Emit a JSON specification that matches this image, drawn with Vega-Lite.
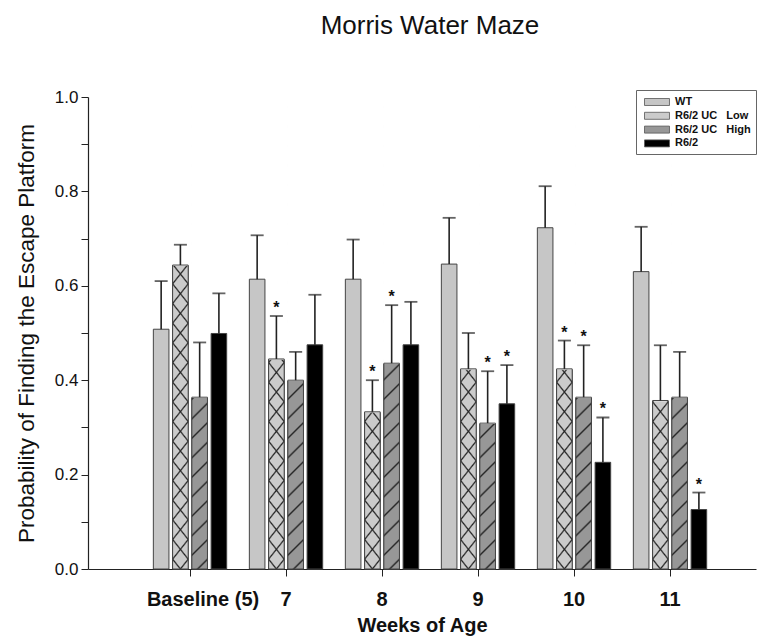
{
  "$schema": "https://vega.github.io/schema/vega-lite/v6.json",
  "autosize": {"type": "none"},
  "padding": {"left": 88, "top": 97, "right": 1, "bottom": 68},
  "width": 668,
  "height": 472,
  "background": "white",
  "title": {"text": "Morris Water Maze", "font": "Liberation Sans", "fontSize": 26, "fontWeight": "normal", "color": "#111", "frame": "group", "anchor": "middle", "dx": 8, "offset": 49},
  "config": {
    "view": {"stroke": null},
    "font": "Liberation Sans",
    "axisY": {
      "values": [0, 0.04, 0.08, 0.12, 0.16, 0.2, 0.24, 0.28, 0.32, 0.36, 0.4, 0.44, 0.48, 0.52, 0.56, 0.6, 0.64, 0.68, 0.72, 0.76, 0.8, 0.84, 0.88, 0.92, 0.96, 1],
      "labelExpr": "abs(datum.value * 5 - round(datum.value * 5)) < 0.001 ? format(datum.value, '.1f') : ''",
      "labelOverlap": false, "labelBound": false,
      "labelFont": "Liberation Sans", "labelFontSize": 17, "labelColor": "#111", "labelPadding": 3,
      "tickSize": 7, "tickColor": "#222", "domainColor": "#222", "domainWidth": 1.2, "grid": false,
      "titleFont": "Liberation Sans", "titleFontSize": 22.5, "titleFontWeight": "normal", "titleColor": "#111", "titlePadding": 16
    }
  },
  "data": {"values": [
    {"week": "Baseline (5)", "group": "WT", "value": 0.508, "err": 0.610, "sig": false},
    {"week": "Baseline (5)", "group": "R6/2 UC Low", "value": 0.644, "err": 0.687, "sig": false},
    {"week": "Baseline (5)", "group": "R6/2 UC High", "value": 0.364, "err": 0.480, "sig": false},
    {"week": "Baseline (5)", "group": "R6/2", "value": 0.499, "err": 0.584, "sig": false},
    {"week": "7", "group": "WT", "value": 0.614, "err": 0.707, "sig": false},
    {"week": "7", "group": "R6/2 UC Low", "value": 0.445, "err": 0.536, "sig": true},
    {"week": "7", "group": "R6/2 UC High", "value": 0.400, "err": 0.460, "sig": false},
    {"week": "7", "group": "R6/2", "value": 0.475, "err": 0.581, "sig": false},
    {"week": "8", "group": "WT", "value": 0.614, "err": 0.698, "sig": false},
    {"week": "8", "group": "R6/2 UC Low", "value": 0.333, "err": 0.400, "sig": true},
    {"week": "8", "group": "R6/2 UC High", "value": 0.436, "err": 0.559, "sig": true},
    {"week": "8", "group": "R6/2", "value": 0.475, "err": 0.566, "sig": false},
    {"week": "9", "group": "WT", "value": 0.646, "err": 0.744, "sig": false},
    {"week": "9", "group": "R6/2 UC Low", "value": 0.424, "err": 0.500, "sig": false},
    {"week": "9", "group": "R6/2 UC High", "value": 0.309, "err": 0.419, "sig": true},
    {"week": "9", "group": "R6/2", "value": 0.350, "err": 0.432, "sig": true},
    {"week": "10", "group": "WT", "value": 0.723, "err": 0.811, "sig": false},
    {"week": "10", "group": "R6/2 UC Low", "value": 0.424, "err": 0.484, "sig": true},
    {"week": "10", "group": "R6/2 UC High", "value": 0.364, "err": 0.474, "sig": true},
    {"week": "10", "group": "R6/2", "value": 0.226, "err": 0.321, "sig": true},
    {"week": "11", "group": "WT", "value": 0.630, "err": 0.725, "sig": false},
    {"week": "11", "group": "R6/2 UC Low", "value": 0.357, "err": 0.474, "sig": false},
    {"week": "11", "group": "R6/2 UC High", "value": 0.364, "err": 0.460, "sig": false},
    {"week": "11", "group": "R6/2", "value": 0.126, "err": 0.162, "sig": true}
  ]},
  "encoding": {
    "x": {
      "field": "week", "type": "nominal",
      "sort": ["Baseline (5)", "7", "8", "9", "10", "11"],
      "scale": {"paddingInner": 0.236, "paddingOuter": 0.5972, "align": 0.57},
      "axis": {
        "title": "Weeks of Age", "titleFont": "Liberation Sans", "titleFontSize": 20, "titleFontWeight": "bold", "titleColor": "#111", "titlePadding": 6,
        "labelAngle": 0, "labelFont": "Liberation Sans", "labelFontSize": 20, "labelFontWeight": "bold", "labelColor": "#111", "labelPadding": 13,
        "labelOffset": {"condition": {"test": "datum.value === 'Baseline (5)'", "value": 13}, "value": 0},
        "tickSize": 7, "tickColor": "#222", "domainColor": "#222", "domainWidth": 1.2, "grid": false
      }
    },
    "xOffset": {
      "field": "group", "type": "nominal",
      "sort": ["WT", "R6/2 UC Low", "R6/2 UC High", "R6/2"],
      "scale": {"paddingInner": 0.19, "paddingOuter": 0}
    }
  },
  "layer": [
    {
      "mark": {"type": "bar", "stroke": "#444", "strokeWidth": 1},
      "encoding": {
        "y": {
          "field": "value", "type": "quantitative",
          "scale": {"domain": [0, 1], "nice": false},
          "axis": {"title": "Probability of Finding the Escape Platform"}
        },
        "color": {
          "field": "group", "type": "nominal",
          "sort": ["WT", "R6/2 UC Low", "R6/2 UC High", "R6/2"],
          "scale": {"domain": ["WT", "R6/2 UC Low", "R6/2 UC High", "R6/2"], "range": ["#c6c6c6", "#cbcbcb", "#979797", "#000000"]},
          "legend": {
            "title": null, "orient": "none", "legendX": 548, "legendY": -7,
            "padding": 5, "strokeColor": "#666", "fillColor": "white", "cornerRadius": 0,
            "labelFont": "Liberation Sans", "labelFontSize": 11, "labelFontWeight": "bold", "labelColor": "#111", "labelOffset": 11,
            "symbolType": "M-2,-0.56H2V0.56H-2Z", "symbolSize": 156, "symbolOffset": 9, "symbolStrokeColor": "#555", "symbolStrokeWidth": 0.8, "symbolOpacity": 1,
            "rowPadding": 0.8,
            "labelExpr": "datum.label === 'R6/2 UC Low' ? 'R6/2 UC\u00a0\u00a0\u00a0Low' : datum.label === 'R6/2 UC High' ? 'R6/2 UC\u00a0\u00a0\u00a0High' : datum.label"
          }
        }
      }
    },
    {
      "transform": [{"filter": "datum.group === 'R6/2 UC Low'"}],
      "mark": {"type": "bar", "fill": {"gradient": "linear", "x1": 0, "y1": 1, "x2": 0.04333, "y2": -0.03986, "stops": [
        {"offset": 0, "color": "#cbcbcb"},
        {"offset": 0.016, "color": "#cbcbcb"}, {"offset": 0.02, "color": "#222"}, {"offset": 0.024, "color": "#cbcbcb"},
        {"offset": 0.056, "color": "#cbcbcb"}, {"offset": 0.06, "color": "#222"}, {"offset": 0.064, "color": "#cbcbcb"},
        {"offset": 0.096, "color": "#cbcbcb"}, {"offset": 0.1, "color": "#222"}, {"offset": 0.104, "color": "#cbcbcb"},
        {"offset": 0.136, "color": "#cbcbcb"}, {"offset": 0.14, "color": "#222"}, {"offset": 0.144, "color": "#cbcbcb"},
        {"offset": 0.176, "color": "#cbcbcb"}, {"offset": 0.18, "color": "#222"}, {"offset": 0.184, "color": "#cbcbcb"},
        {"offset": 0.216, "color": "#cbcbcb"}, {"offset": 0.22, "color": "#222"}, {"offset": 0.224, "color": "#cbcbcb"},
        {"offset": 0.256, "color": "#cbcbcb"}, {"offset": 0.26, "color": "#222"}, {"offset": 0.264, "color": "#cbcbcb"},
        {"offset": 0.296, "color": "#cbcbcb"}, {"offset": 0.3, "color": "#222"}, {"offset": 0.304, "color": "#cbcbcb"},
        {"offset": 0.336, "color": "#cbcbcb"}, {"offset": 0.34, "color": "#222"}, {"offset": 0.344, "color": "#cbcbcb"},
        {"offset": 0.376, "color": "#cbcbcb"}, {"offset": 0.38, "color": "#222"}, {"offset": 0.384, "color": "#cbcbcb"},
        {"offset": 0.416, "color": "#cbcbcb"}, {"offset": 0.42, "color": "#222"}, {"offset": 0.424, "color": "#cbcbcb"},
        {"offset": 0.456, "color": "#cbcbcb"}, {"offset": 0.46, "color": "#222"}, {"offset": 0.464, "color": "#cbcbcb"},
        {"offset": 0.496, "color": "#cbcbcb"}, {"offset": 0.5, "color": "#222"}, {"offset": 0.504, "color": "#cbcbcb"},
        {"offset": 0.536, "color": "#cbcbcb"}, {"offset": 0.54, "color": "#222"}, {"offset": 0.544, "color": "#cbcbcb"},
        {"offset": 0.576, "color": "#cbcbcb"}, {"offset": 0.58, "color": "#222"}, {"offset": 0.584, "color": "#cbcbcb"},
        {"offset": 0.616, "color": "#cbcbcb"}, {"offset": 0.62, "color": "#222"}, {"offset": 0.624, "color": "#cbcbcb"},
        {"offset": 0.656, "color": "#cbcbcb"}, {"offset": 0.66, "color": "#222"}, {"offset": 0.664, "color": "#cbcbcb"},
        {"offset": 0.696, "color": "#cbcbcb"}, {"offset": 0.7, "color": "#222"}, {"offset": 0.704, "color": "#cbcbcb"},
        {"offset": 0.736, "color": "#cbcbcb"}, {"offset": 0.74, "color": "#222"}, {"offset": 0.744, "color": "#cbcbcb"},
        {"offset": 0.776, "color": "#cbcbcb"}, {"offset": 0.78, "color": "#222"}, {"offset": 0.784, "color": "#cbcbcb"},
        {"offset": 0.816, "color": "#cbcbcb"}, {"offset": 0.82, "color": "#222"}, {"offset": 0.824, "color": "#cbcbcb"},
        {"offset": 0.856, "color": "#cbcbcb"}, {"offset": 0.86, "color": "#222"}, {"offset": 0.864, "color": "#cbcbcb"},
        {"offset": 0.896, "color": "#cbcbcb"}, {"offset": 0.9, "color": "#222"}, {"offset": 0.904, "color": "#cbcbcb"},
        {"offset": 0.936, "color": "#cbcbcb"}, {"offset": 0.94, "color": "#222"}, {"offset": 0.944, "color": "#cbcbcb"},
        {"offset": 0.976, "color": "#cbcbcb"}, {"offset": 0.98, "color": "#222"}, {"offset": 0.984, "color": "#cbcbcb"},
        {"offset": 1, "color": "#cbcbcb"}
      ]}},
      "encoding": {"y": {"datum": 1}, "y2": {"datum": 0}}
    },
    {
      "transform": [{"filter": "datum.group === 'R6/2 UC Low'"}],
      "mark": {"type": "bar", "fill": {"gradient": "linear", "x1": 0, "y1": 0, "x2": 0.04333, "y2": 1.03986, "stops": [
        {"offset": 0, "color": "rgba(34,34,34,0)"},
        {"offset": 0.016, "color": "rgba(34,34,34,0)"}, {"offset": 0.02, "color": "#222"}, {"offset": 0.024, "color": "rgba(34,34,34,0)"},
        {"offset": 0.056, "color": "rgba(34,34,34,0)"}, {"offset": 0.06, "color": "#222"}, {"offset": 0.064, "color": "rgba(34,34,34,0)"},
        {"offset": 0.096, "color": "rgba(34,34,34,0)"}, {"offset": 0.1, "color": "#222"}, {"offset": 0.104, "color": "rgba(34,34,34,0)"},
        {"offset": 0.136, "color": "rgba(34,34,34,0)"}, {"offset": 0.14, "color": "#222"}, {"offset": 0.144, "color": "rgba(34,34,34,0)"},
        {"offset": 0.176, "color": "rgba(34,34,34,0)"}, {"offset": 0.18, "color": "#222"}, {"offset": 0.184, "color": "rgba(34,34,34,0)"},
        {"offset": 0.216, "color": "rgba(34,34,34,0)"}, {"offset": 0.22, "color": "#222"}, {"offset": 0.224, "color": "rgba(34,34,34,0)"},
        {"offset": 0.256, "color": "rgba(34,34,34,0)"}, {"offset": 0.26, "color": "#222"}, {"offset": 0.264, "color": "rgba(34,34,34,0)"},
        {"offset": 0.296, "color": "rgba(34,34,34,0)"}, {"offset": 0.3, "color": "#222"}, {"offset": 0.304, "color": "rgba(34,34,34,0)"},
        {"offset": 0.336, "color": "rgba(34,34,34,0)"}, {"offset": 0.34, "color": "#222"}, {"offset": 0.344, "color": "rgba(34,34,34,0)"},
        {"offset": 0.376, "color": "rgba(34,34,34,0)"}, {"offset": 0.38, "color": "#222"}, {"offset": 0.384, "color": "rgba(34,34,34,0)"},
        {"offset": 0.416, "color": "rgba(34,34,34,0)"}, {"offset": 0.42, "color": "#222"}, {"offset": 0.424, "color": "rgba(34,34,34,0)"},
        {"offset": 0.456, "color": "rgba(34,34,34,0)"}, {"offset": 0.46, "color": "#222"}, {"offset": 0.464, "color": "rgba(34,34,34,0)"},
        {"offset": 0.496, "color": "rgba(34,34,34,0)"}, {"offset": 0.5, "color": "#222"}, {"offset": 0.504, "color": "rgba(34,34,34,0)"},
        {"offset": 0.536, "color": "rgba(34,34,34,0)"}, {"offset": 0.54, "color": "#222"}, {"offset": 0.544, "color": "rgba(34,34,34,0)"},
        {"offset": 0.576, "color": "rgba(34,34,34,0)"}, {"offset": 0.58, "color": "#222"}, {"offset": 0.584, "color": "rgba(34,34,34,0)"},
        {"offset": 0.616, "color": "rgba(34,34,34,0)"}, {"offset": 0.62, "color": "#222"}, {"offset": 0.624, "color": "rgba(34,34,34,0)"},
        {"offset": 0.656, "color": "rgba(34,34,34,0)"}, {"offset": 0.66, "color": "#222"}, {"offset": 0.664, "color": "rgba(34,34,34,0)"},
        {"offset": 0.696, "color": "rgba(34,34,34,0)"}, {"offset": 0.7, "color": "#222"}, {"offset": 0.704, "color": "rgba(34,34,34,0)"},
        {"offset": 0.736, "color": "rgba(34,34,34,0)"}, {"offset": 0.74, "color": "#222"}, {"offset": 0.744, "color": "rgba(34,34,34,0)"},
        {"offset": 0.776, "color": "rgba(34,34,34,0)"}, {"offset": 0.78, "color": "#222"}, {"offset": 0.784, "color": "rgba(34,34,34,0)"},
        {"offset": 0.816, "color": "rgba(34,34,34,0)"}, {"offset": 0.82, "color": "#222"}, {"offset": 0.824, "color": "rgba(34,34,34,0)"},
        {"offset": 0.856, "color": "rgba(34,34,34,0)"}, {"offset": 0.86, "color": "#222"}, {"offset": 0.864, "color": "rgba(34,34,34,0)"},
        {"offset": 0.896, "color": "rgba(34,34,34,0)"}, {"offset": 0.9, "color": "#222"}, {"offset": 0.904, "color": "rgba(34,34,34,0)"},
        {"offset": 0.936, "color": "rgba(34,34,34,0)"}, {"offset": 0.94, "color": "#222"}, {"offset": 0.944, "color": "rgba(34,34,34,0)"},
        {"offset": 0.976, "color": "rgba(34,34,34,0)"}, {"offset": 0.98, "color": "#222"}, {"offset": 0.984, "color": "rgba(34,34,34,0)"},
        {"offset": 1, "color": "rgba(34,34,34,0)"}
      ]}},
      "encoding": {"y": {"datum": 1}, "y2": {"datum": 0}}
    },
    {
      "transform": [{"filter": "datum.group === 'R6/2 UC High'"}],
      "mark": {"type": "bar", "fill": {"gradient": "linear", "x1": 0, "y1": 0, "x2": 0.03388, "y2": 1.03173, "stops": [
        {"offset": 0, "color": "#979797"},
        {"offset": 0.016, "color": "#979797"}, {"offset": 0.02, "color": "#222"}, {"offset": 0.024, "color": "#979797"},
        {"offset": 0.056, "color": "#979797"}, {"offset": 0.06, "color": "#222"}, {"offset": 0.064, "color": "#979797"},
        {"offset": 0.096, "color": "#979797"}, {"offset": 0.1, "color": "#222"}, {"offset": 0.104, "color": "#979797"},
        {"offset": 0.136, "color": "#979797"}, {"offset": 0.14, "color": "#222"}, {"offset": 0.144, "color": "#979797"},
        {"offset": 0.176, "color": "#979797"}, {"offset": 0.18, "color": "#222"}, {"offset": 0.184, "color": "#979797"},
        {"offset": 0.216, "color": "#979797"}, {"offset": 0.22, "color": "#222"}, {"offset": 0.224, "color": "#979797"},
        {"offset": 0.256, "color": "#979797"}, {"offset": 0.26, "color": "#222"}, {"offset": 0.264, "color": "#979797"},
        {"offset": 0.296, "color": "#979797"}, {"offset": 0.3, "color": "#222"}, {"offset": 0.304, "color": "#979797"},
        {"offset": 0.336, "color": "#979797"}, {"offset": 0.34, "color": "#222"}, {"offset": 0.344, "color": "#979797"},
        {"offset": 0.376, "color": "#979797"}, {"offset": 0.38, "color": "#222"}, {"offset": 0.384, "color": "#979797"},
        {"offset": 0.416, "color": "#979797"}, {"offset": 0.42, "color": "#222"}, {"offset": 0.424, "color": "#979797"},
        {"offset": 0.456, "color": "#979797"}, {"offset": 0.46, "color": "#222"}, {"offset": 0.464, "color": "#979797"},
        {"offset": 0.496, "color": "#979797"}, {"offset": 0.5, "color": "#222"}, {"offset": 0.504, "color": "#979797"},
        {"offset": 0.536, "color": "#979797"}, {"offset": 0.54, "color": "#222"}, {"offset": 0.544, "color": "#979797"},
        {"offset": 0.576, "color": "#979797"}, {"offset": 0.58, "color": "#222"}, {"offset": 0.584, "color": "#979797"},
        {"offset": 0.616, "color": "#979797"}, {"offset": 0.62, "color": "#222"}, {"offset": 0.624, "color": "#979797"},
        {"offset": 0.656, "color": "#979797"}, {"offset": 0.66, "color": "#222"}, {"offset": 0.664, "color": "#979797"},
        {"offset": 0.696, "color": "#979797"}, {"offset": 0.7, "color": "#222"}, {"offset": 0.704, "color": "#979797"},
        {"offset": 0.736, "color": "#979797"}, {"offset": 0.74, "color": "#222"}, {"offset": 0.744, "color": "#979797"},
        {"offset": 0.776, "color": "#979797"}, {"offset": 0.78, "color": "#222"}, {"offset": 0.784, "color": "#979797"},
        {"offset": 0.816, "color": "#979797"}, {"offset": 0.82, "color": "#222"}, {"offset": 0.824, "color": "#979797"},
        {"offset": 0.856, "color": "#979797"}, {"offset": 0.86, "color": "#222"}, {"offset": 0.864, "color": "#979797"},
        {"offset": 0.896, "color": "#979797"}, {"offset": 0.9, "color": "#222"}, {"offset": 0.904, "color": "#979797"},
        {"offset": 0.936, "color": "#979797"}, {"offset": 0.94, "color": "#222"}, {"offset": 0.944, "color": "#979797"},
        {"offset": 0.976, "color": "#979797"}, {"offset": 0.98, "color": "#222"}, {"offset": 0.984, "color": "#979797"},
        {"offset": 1, "color": "#979797"}
      ]}},
      "encoding": {"y": {"datum": 1}, "y2": {"datum": 0}}
    },
    {
      "transform": [{"filter": "datum.group === 'R6/2 UC Low' || datum.group === 'R6/2 UC High'"}],
      "mark": {"type": "bar", "fill": "white", "stroke": "white", "strokeWidth": 1.6},
      "encoding": {"y": {"field": "value", "type": "quantitative"}, "y2": {"datum": 1}}
    },
    {
      "transform": [{"filter": "datum.group === 'R6/2 UC Low' || datum.group === 'R6/2 UC High'"}],
      "mark": {"type": "bar", "fillOpacity": 0, "stroke": "#444", "strokeWidth": 1},
      "encoding": {"y": {"field": "value", "type": "quantitative"}, "y2": {"datum": 0}}
    },
    {
      "mark": {"type": "rule", "color": "#222", "strokeWidth": 1.6},
      "encoding": {"y": {"field": "value", "type": "quantitative"}, "y2": {"field": "err"}}
    },
    {
      "mark": {"type": "tick", "color": "#222", "size": 13, "thickness": 1.8},
      "encoding": {"y": {"field": "err", "type": "quantitative"}}
    },
    {
      "transform": [{"filter": "datum.sig"}],
      "mark": {"type": "text", "text": "*", "font": "Liberation Sans", "fontSize": 16, "fontWeight": "bold", "color": "#111", "baseline": "alphabetic", "dy": -3},
      "encoding": {"y": {"field": "err", "type": "quantitative"}}
    }
  ]
}
